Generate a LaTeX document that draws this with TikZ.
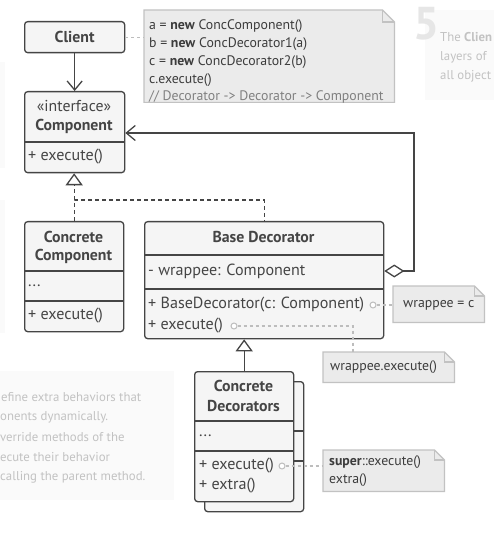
\documentclass[tikz,border=0pt]{standalone}
\usepackage{fontspec}
\setmainfont{PT Sans}
\usetikzlibrary{arrows.meta}
\definecolor{ink}{HTML}{454545}
\definecolor{boxfill}{HTML}{F5F5F5}
\definecolor{notefill}{HTML}{EBEBEB}
\definecolor{noteline}{HTML}{C2C2C2}
\definecolor{notetext}{HTML}{3C3C3C}
\definecolor{commentgray}{HTML}{808080}
\definecolor{linkgray}{HTML}{BDBDBD}
\definecolor{panel}{HTML}{FAFAFA}
\definecolor{fainttext}{HTML}{C2C2C2}
\definecolor{fivegray}{HTML}{E6E6E6}
\newcommand\foldnote[2]{%
  \draw[draw=noteline, fill=notefill, line width=1.2pt]
    (#1.north west) -- ([xshift=-#2 pt]#1.north east) -- ([yshift=-#2 pt]#1.north east)
    -- (#1.south east) -- (#1.south west) -- cycle;
  \draw[draw=noteline, line width=1.2pt]
    ([xshift=-#2 pt]#1.north east) -- ([xshift=-#2 pt, yshift=-#2 pt]#1.north east) -- ([yshift=-#2 pt]#1.north east);}
\begin{document}
\begin{tikzpicture}[x=1pt,y=-1pt,
  box/.style={draw=ink, fill=boxfill, line width=1.3pt, rounded corners=3pt, inner sep=0, anchor=north west},
  sepline/.style={draw=ink, line width=1.3pt},
  ttl/.style={font=\bfseries\fontsize{15.8}{18}\selectfont, text=ink, inner sep=0},
  lbl/.style={font=\fontsize{16.1}{18}\selectfont, text=ink, inner sep=0, anchor=west},
  ntxt/.style={font=\fontsize{13.8}{16}\selectfont, text=notetext, inner sep=0, anchor=west},
  faint/.style={font=\fontsize{12.8}{15}\selectfont, text=fainttext, inner sep=0, anchor=west},
  notebox/.style={inner sep=0, anchor=north west},
  conn/.style={draw=ink, line width=1.3pt},
  dashconn/.style={conn, dash pattern=on 4pt off 3pt},
  nlink/.style={draw=linkgray, line width=1.2pt, dash pattern=on 3pt off 3pt},
  dot/.style={circle, draw=linkgray, fill=white, line width=1pt, minimum size=6pt, inner sep=0},
  openv/.style={-{Straight Barb[length=9pt,width=15pt,line width=1.3pt]}},
  ]
\useasboundingbox (0,0) rectangle (494,534);
\fill[white] (0,0) rectangle (494,534);
% faded background panels
\fill[panel] (0,62) rectangle (5,168);
\fill[panel] (0,200) rectangle (5,333);
\fill[panel] (0,371) rectangle (174,500);
\fill[panel] (425,10) rectangle (494,100);
\node[font=\bfseries\fontsize{46}{46}\selectfont, text=fivegray, inner sep=0, anchor=north west] (five) at (413,7) {5};
\node[faint] (tr1) at (440,37) {The \textbf{Clien}};
\node[faint] (tr2) at (440,57) {layers of};
\node[faint] (tr3) at (440,76) {all object};
\node[faint] (bl1) at (1,397) {efine extra behaviors that};
\node[faint] (bl2) at (0,417) {onents dynamically.};
\node[faint] (bl3) at (0,437) {verride methods of the};
\node[faint] (bl4) at (0,457) {ecute their behavior};
\node[faint] (bl5) at (0,477) {calling the parent method.};

% Client
\node[box, minimum width=100pt, minimum height=31pt] (client) at (24,21) {};
\node[ttl] (clientt) at (client.center) {Client};

% Component
\node[box, minimum width=100pt, minimum height=81pt] (comp) at (24,91) {};
\draw[sepline] (comp.west |- 0,142) -- (comp.east |- 0,142);
\node[font=\fontsize{15.8}{18}\selectfont, text=ink, inner sep=0] (compst) at (74,106) {«interface»};
\node[ttl] (compt) at (74,126) {Component};
\node[lbl] (compm) at (28,157) {+ execute()};

% Concrete Component
\node[box, minimum width=99pt, minimum height=110pt] (cc) at (24,221) {};
\draw[sepline] (cc.west |- 0,271) -- (cc.east |- 0,271);
\draw[sepline] (cc.west |- 0,301) -- (cc.east |- 0,301);
\node[ttl] (cct1) at (73.5,237) {Concrete};
\node[ttl] (cct2) at (73.5,256) {Component};
\node[lbl] (ccf) at (28,286) {...};
\node[lbl] (ccm) at (28,316) {+ execute()};

% Base Decorator
\node[box, minimum width=239pt, minimum height=117pt] (bd) at (144,221) {};
\draw[sepline] (bd.west |- 0,255) -- (bd.east |- 0,255);
\draw[sepline] (bd.west |- 0,289) -- (bd.east |- 0,289);
\node[ttl] (bdt) at (263.5,237) {Base Decorator};
\node[lbl] (wr) at (148,271) {- wrappee: Component};
\node[lbl] (bdc) at (148,305) {+ BaseDecorator(c: Component)};
\node[lbl] (bde) at (148,326) {+ execute()};

% Concrete Decorators (stacked)
\node[box, minimum width=99pt, minimum height=130pt] (cdb) at (204,381) {};
\draw[sepline] (cdb.west |- 0,431) -- (cdb.east |- 0,431);
\draw[sepline] (cdb.west |- 0,461) -- (cdb.east |- 0,461);
\node[box, minimum width=99pt, minimum height=130pt] (cdf) at (194,371) {};
\draw[sepline] (cdf.west |- 0,421) -- (cdf.east |- 0,421);
\draw[sepline] (cdf.west |- 0,451) -- (cdf.east |- 0,451);
\node[ttl] (cdt1) at (243.5,386) {Concrete};
\node[ttl] (cdt2) at (243.5,406) {Decorators};
\node[lbl] (cdf1) at (199,436) {...};
\node[lbl] (cde) at (199,466) {+ execute()};
\node[lbl] (cdx) at (199,486) {+ extra()};

% Notes
\node[notebox, minimum width=250pt, minimum height=92pt] (n1) at (144,10) {};
\foldnote{n1}{12}
\node[ntxt] (n1a) at (149,26) {a = \textbf{new} ConcComponent()};
\node[ntxt] (n1b) at (149,44) {b = \textbf{new} ConcDecorator1(a)};
\node[ntxt] (n1c) at (149,62) {c = \textbf{new} ConcDecorator2(b)};
\node[ntxt] (n1d) at (149,80) {c.execute()};
\node[ntxt, text=commentgray] (n1e) at (149,97) {// Decorator -> Decorator -> Component};

\node[notebox, minimum width=91pt, minimum height=36pt] (n2) at (393,286) {};
\foldnote{n2}{10}
\node[ntxt] (n2t) at (403,305) {wrappee = c};

\node[notebox, minimum width=131pt, minimum height=30pt] (n3) at (323,352) {};
\foldnote{n3}{10}
\node[ntxt] (n3t) at (330,367) {wrappee.execute()};

\node[notebox, minimum width=121pt, minimum height=41pt] (n4) at (323,450) {};
\foldnote{n4}{10}
\node[ntxt] (n4a) at (329,462) {\textbf{super}::execute()};
\node[ntxt] (n4b) at (329,480) {extra()};

% dots
\node[dot] (d1) at (373,305) {};
\node[dot] (d2) at (234,326) {};
\node[dot] (d3) at (282,466) {};

% note links
\draw[nlink] (client.east) -- (n1.west |- client.east);
\draw[nlink] (d1) -- (n2.west |- d1);
\draw[nlink] (d2) -| ([xshift=30pt]n3.north west);
\draw[nlink] (d3) -- (n4.west |- d3);

% connectors
\coordinate (jy) at (0,200);
\coordinate (ag) at (414,133);
\draw[conn, openv] (client) -- (comp);
\draw[dashconn] (cc.north) -- (cc.north |- jy) -| (bd.north);
\draw[dashconn, -{Triangle[open, length=12pt, width=17pt, fill=white, line width=1.3pt]}] (cc.north |- jy) -- (cc.north |- comp.south);
\draw[conn, {Diamond[open, length=20pt, width=13pt, fill=white, line width=1.3pt]}-{Straight Barb[length=9pt,width=15pt,line width=1.3pt]}]
  (bd.east |- wr) -- (ag |- wr) -- (ag) -- (comp.east |- ag);
\draw[conn, -{Triangle[open, length=12pt, width=17pt, fill=white, line width=1.3pt]}] (cdf.north) -- (cdf.north |- bd.south);
\end{tikzpicture}
\end{document}
